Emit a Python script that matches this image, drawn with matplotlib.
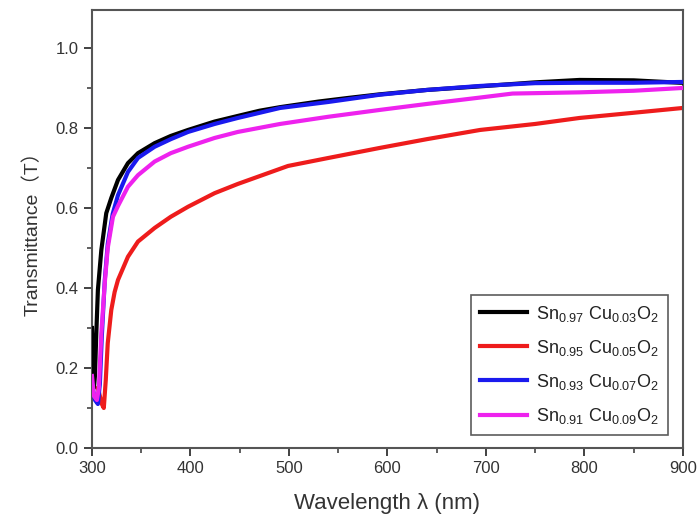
import matplotlib
matplotlib.use("Agg")
import matplotlib.pyplot as plt
import numpy as np

# Data
wl_black = [300, 301, 302, 303, 304.4, 306, 309.5, 314.5, 319.6, 326.4, 336.5, 346.7, 363.6, 380, 397.5,
            424.5, 448, 470, 491, 530, 560, 592, 640, 694, 750, 795, 850, 897, 900]
t_black = [0.30, 0.20, 0.15, 0.18, 0.287, 0.395, 0.495, 0.587, 0.625, 0.67, 0.712, 0.737, 0.762, 0.78, 0.795,
           0.816, 0.83, 0.843, 0.852, 0.866, 0.875, 0.884, 0.895, 0.904, 0.914, 0.92, 0.919, 0.913, 0.913]

wl_red = [306, 308, 310, 312, 314, 316, 319.6, 323, 326.4, 336.5, 346.7, 363.6, 380, 397.5, 424.5, 448,
          499, 540, 592, 640, 694, 750, 795, 850, 900]
t_red = [0.15, 0.13, 0.11, 0.10, 0.17, 0.262, 0.345, 0.39, 0.42, 0.478, 0.516, 0.55, 0.578, 0.603, 0.637, 0.66,
         0.705, 0.725, 0.75, 0.772, 0.795, 0.81, 0.825, 0.838, 0.85]

wl_blue = [300, 303, 306, 308, 310, 313, 316, 321, 326.4, 336.5, 346.7, 363.6, 380, 397.5, 424.5, 448,
           491, 540, 592, 640, 694, 750, 795, 850, 900]
t_blue = [0.16, 0.12, 0.11, 0.16, 0.28, 0.42, 0.51, 0.585, 0.632, 0.69, 0.725, 0.753, 0.772, 0.79, 0.81, 0.825,
          0.85, 0.865, 0.883, 0.895, 0.905, 0.912, 0.913, 0.913, 0.915]

wl_mag = [300, 302, 305, 307, 309.5, 312.9, 316, 321.3, 326.4, 336.5, 346.7, 363.6, 380, 397.5, 424.5, 448,
          491, 540, 592, 640, 694, 727, 795, 850, 900]
t_mag = [0.18, 0.13, 0.12, 0.15, 0.287, 0.41, 0.50, 0.578, 0.605, 0.653, 0.682, 0.716, 0.737, 0.753, 0.775, 0.79,
         0.81, 0.828, 0.845, 0.86, 0.876, 0.886, 0.889, 0.893, 0.90]

labels = [r'Sn$_{0.97}$ Cu$_{0.03}$O$_{2}$',
          r'Sn$_{0.95}$ Cu$_{0.05}$O$_{2}$',
          r'Sn$_{0.93}$ Cu$_{0.07}$O$_{2}$',
          r'Sn$_{0.91}$ Cu$_{0.09}$O$_{2}$']
colors = ['#000000', '#ee1c1c', '#1a1aee', '#ee22ee']

plt.rcParams['font.family'] = ['Liberation Sans', 'DejaVu Sans']
plt.rcParams['mathtext.fontset'] = 'custom'
plt.rcParams['mathtext.rm'] = 'Liberation Sans'
plt.rcParams['mathtext.it'] = 'Liberation Sans'

fig = plt.figure(figsize=(7.0, 5.23), dpi=100)
ax = fig.add_axes([0.1314, 0.1434, 0.8443, 0.8376])

lw = 3.0
l2, = ax.plot(wl_red, t_red, color=colors[1], lw=lw, label=labels[1], zorder=2, solid_joinstyle='round')
l1, = ax.plot(wl_black, t_black, color=colors[0], lw=lw, label=labels[0], zorder=3, solid_joinstyle='round')
l3, = ax.plot(wl_blue, t_blue, color=colors[2], lw=lw, label=labels[2], zorder=4, solid_joinstyle='round')
l4, = ax.plot(wl_mag, t_mag, color=colors[3], lw=lw, label=labels[3], zorder=5, solid_joinstyle='round')

ax.set_xlim(300, 900)
ax.set_ylim(0, 1.095)
ax.set_xticks(np.arange(300, 901, 100))
ax.set_xticks(np.arange(350, 900, 100), minor=True)
ax.set_yticks(np.arange(0, 1.01, 0.2))
ax.set_yticks(np.arange(0.1, 1.01, 0.2), minor=True)
ax.set_yticklabels(['0.0', '0.2', '0.4', '0.6', '0.8', '1.0'])

for s in ax.spines.values():
    s.set_color('#555555')
    s.set_linewidth(1.5)
ax.tick_params(which='both', direction='out', colors='#333333', labelcolor='#333333',
               top=False, right=False)
ax.tick_params(which='major', length=6, width=1.3, labelsize=12)
ax.tick_params(which='minor', length=3.5, width=1.1)

ax.set_xlabel('Wavelength λ (nm)', fontsize=16, color='#333333', labelpad=12)
ax.set_ylabel('Transmittance（T）', fontsize=14, color='#333333', labelpad=10,
              family=['Liberation Sans', 'Noto Sans CJK SC'])

leg = ax.legend(handles=[l1, l2, l3, l4], loc='lower right', fontsize=13,
                frameon=True, fancybox=False, edgecolor='#333333',
                handlelength=2.6, handletextpad=0.5, borderaxespad=0.0, labelspacing=0.78,
                borderpad=0.5, bbox_to_anchor=(0.975, 0.03))
leg.get_frame().set_linewidth(1.2)
for t in leg.get_texts():
    t.set_color('#222222')

fig.savefig('out.png', dpi=100)
